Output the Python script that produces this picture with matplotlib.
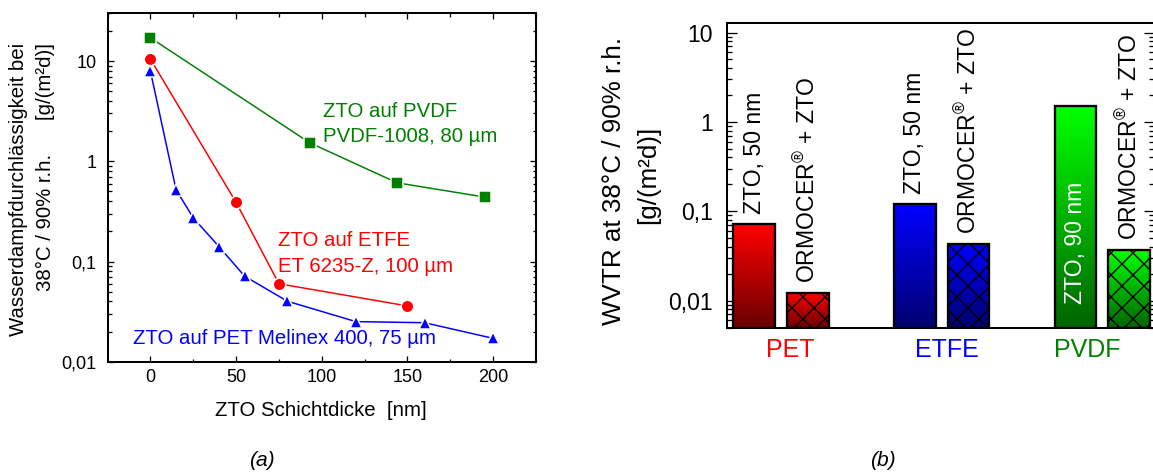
import numpy as np
import matplotlib
matplotlib.use('Agg')
import matplotlib.pyplot as plt
from matplotlib.colors import LinearSegmentedColormap
from matplotlib.ticker import LogLocator, NullFormatter, MultipleLocator

# (a) WVTR vs ZTO thickness
pvdf_x = [0, 93, 144, 195]
pvdf_y = [17.1, 1.53, 0.61, 0.44]
etfe_x = [0, 50, 75, 150]
etfe_y = [10.5, 0.39, 0.06, 0.036]
pet_x = [0, 15, 25, 40, 55, 80, 120, 160, 200]
pet_y = [8.0, 0.52, 0.273, 0.141, 0.0713, 0.0401, 0.0251, 0.0245, 0.0171]

# (b) WVTR per substrate
substrates = ['PET', 'ETFE', 'PVDF']
zto_wvtr = [0.0723, 0.122, 1.52]
ormocer_wvtr = [0.0122, 0.0435, 0.0366]
zto_labels = ['ZTO, 50 nm', 'ZTO, 50 nm', 'ZTO, 90 nm']
ormocer_label = 'ORMOCER$^{®}$ + ZTO'

ytick_vals = [0.01, 0.1, 1, 10]
ytick_text = ['0,01', '0,1', '1', '10']

DPI = 66
W, H = 1153, 472


def pt(px):
    return px * 72 / DPI


plt.rcParams['font.family'] = ['Liberation Sans', 'DejaVu Sans']
plt.rcParams['mathtext.fontset'] = 'custom'
plt.rcParams['mathtext.rm'] = 'Liberation Sans'
plt.rcParams['hatch.linewidth'] = pt(1.4)
plt.rcParams['hatch.color'] = 'black'

green = '#008000'
red = '#ff0000'
blue = '#0000ff'

fig = plt.figure(figsize=(W / DPI, H / DPI), dpi=DPI)

# ---------------- panel (a)
axA = fig.add_axes([107.5 / W, 1 - 361.7 / H, 428.5 / W, 348.4 / H])
axA.set_yscale('log')
mk = dict(markeredgecolor='white', markeredgewidth=pt(1.5), linewidth=pt(1.5))
axA.plot(pvdf_x, pvdf_y, 's-', color=green, markersize=pt(11.5), **mk)
axA.plot(etfe_x, etfe_y, 'o-', color=red, markersize=pt(12.5), **mk)
axA.plot(pet_x, pet_y, '^-', color=blue, markersize=pt(11.5), **mk)

axA.set_xlim(-25, 225)
axA.set_ylim(0.01, 30)
axA.set_xticks([0, 50, 100, 150, 200])
axA.xaxis.set_minor_locator(MultipleLocator(25))
axA.set_yticks(ytick_vals, ytick_text)
axA.yaxis.set_minor_locator(LogLocator(base=10, subs=np.arange(2, 10), numticks=20))
axA.yaxis.set_minor_formatter(NullFormatter())
axA.tick_params(which='both', direction='in', top=True, right=True,
                width=pt(1.3), labelsize=pt(18))
axA.tick_params(which='major', length=pt(6))
axA.tick_params(which='minor', length=pt(3.5))
axA.tick_params(axis='y', pad=pt(11))
axA.tick_params(axis='x', pad=pt(7))
for s in axA.spines.values():
    s.set_linewidth(pt(2))

fsA = pt(20.4)
axA.text(100.5, 3.16, 'ZTO auf PVDF', color=green, fontsize=fsA, va='center')
axA.text(100.5, 1.78, 'PVDF-1008, 80 µm', color=green, fontsize=fsA, va='center')
axA.text(74.6, 0.162, 'ZTO auf ETFE', color=red, fontsize=fsA, va='center')
axA.text(74.6, 0.090, 'ET 6235-Z, 100 µm', color=red, fontsize=fsA, va='center')
axA.text(-10, 0.0169, 'ZTO auf PET Melinex 400, 75 µm', color=blue, fontsize=fsA, va='center')

fig.text(321 / W, 1 - 411 / H, 'ZTO Schichtdicke  [nm]', ha='center', va='center', fontsize=fsA)
fig.text(19 / W, 1 - 43.3 / H, 'Wasserdampfdurchlässigkeit bei', rotation=90,
         ha='center', va='top', fontsize=fsA)
fig.text(45 / W, 1 - 43.3 / H, '38°C / 90% r.h.      [g/(m²d)]', rotation=90,
         ha='center', va='top', fontsize=fsA)
fig.text(262 / W, 1 - 460 / H, '(a)', style='italic', ha='center', va='center', fontsize=pt(21))

# ---------------- panel (b)
axB = fig.add_axes([726.7 / W, 1 - 327.5 / H, 427.3 / W, 304.2 / H])
axB.set_yscale('log')
axB.set_ylim(0.005, 12.7)
axB.set_xlim(-1.013, 6.964)

grad_colors = [('#6a0000', '#ff0000'), ('#000070', '#0000ff'), ('#006400', '#00ff00')]
label_colors = [red, blue, green]
label_shift = [0.18, 0.09, -0.28]
bar_w = 0.78
centers = np.arange(len(substrates)) * 3.0


def grad_bar(ax, x, top, cmap, hatch=None):
    y0 = ax.get_ylim()[0]
    ys = np.geomspace(y0, top, 80)
    xs = [x - bar_w / 2, x + bar_w / 2]
    vals = np.linspace(0, 1, len(ys) - 1)[:, None]
    ax.pcolormesh(xs, ys, vals, cmap=cmap, vmin=0, vmax=1, shading='flat',
                  edgecolors='none', antialiased=False, zorder=2)
    ax.bar(x, top - y0, bar_w, bottom=y0, facecolor='none', edgecolor='black',
           linewidth=pt(2.3), hatch=hatch, zorder=3)


fsB = pt(23)
for i, sub in enumerate(substrates):
    cmap = LinearSegmentedColormap.from_list(sub, list(grad_colors[i]))
    xz = centers[i] - 0.5
    xo = centers[i] + 0.5
    grad_bar(axB, xz, zto_wvtr[i], cmap)
    grad_bar(axB, xo, ormocer_wvtr[i], cmap, hatch='x')

    if zto_wvtr[i] > 1:
        axB.annotate(zto_labels[i], xy=(xz, 0), xycoords=('data', 'axes fraction'),
                     xytext=(0, 24), textcoords='offset pixels', rotation=90,
                     ha='center', va='bottom', color='white', fontsize=fsB, zorder=4)
    else:
        axB.annotate(zto_labels[i], xy=(xz, zto_wvtr[i]), xytext=(0, 10),
                     textcoords='offset pixels', rotation=90,
                     ha='center', va='bottom', fontsize=fsB)
    axB.annotate(ormocer_label, xy=(xo, ormocer_wvtr[i]), xytext=(0, 10),
                 textcoords='offset pixels', rotation=90,
                 ha='center', va='bottom', fontsize=fsB)
    axB.annotate(sub, xy=(centers[i] + label_shift[i], 0), xycoords=('data', 'axes fraction'),
                 xytext=(0, -22.5), textcoords='offset pixels', ha='center', va='center',
                 color=label_colors[i], fontsize=pt(25), annotation_clip=False)

axB.set_xticks([])
axB.set_yticks(ytick_vals, ytick_text)
axB.yaxis.set_minor_locator(LogLocator(base=10, subs=np.arange(2, 10), numticks=20))
axB.yaxis.set_minor_formatter(NullFormatter())
axB.tick_params(axis='y', which='both', direction='in', left=True, right=True,
                width=pt(1.3), labelsize=fsB, pad=pt(13.7))
axB.tick_params(axis='y', which='major', length=pt(10))
axB.tick_params(axis='y', which='minor', length=pt(5))
for s in axB.spines.values():
    s.set_linewidth(pt(2))

fig.text(614 / W, 1 - 181 / H, 'WVTR at 38°C / 90% r.h.', rotation=90,
         ha='center', va='center', fontsize=pt(26))
fig.text(648 / W, 1 - 174.5 / H, '[g/(m²d)]', rotation=90,
         ha='center', va='center', fontsize=pt(26))
fig.text(883 / W, 1 - 460 / H, '(b)', style='italic', ha='center', va='center', fontsize=pt(21))

fig.savefig('out.png', dpi=DPI)
